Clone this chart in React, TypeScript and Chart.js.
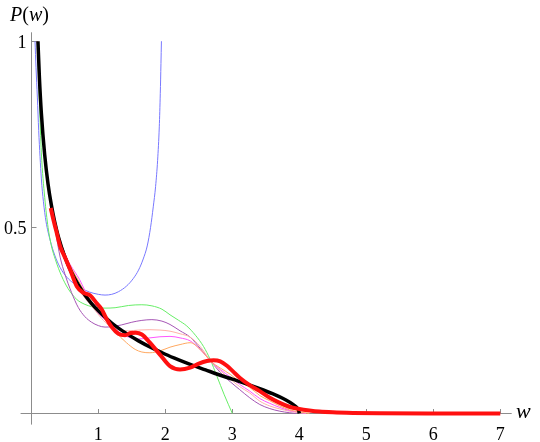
import { useEffect, useRef } from "react";
import { Chart, registerables } from "chart.js";

Chart.register(...registerables);

// ---- tick labels ----
const xTickValues = [1, 2, 3, 4, 5, 6, 7];
const yTickValues = [0.5, 1];
const yTickLabels = ["0.5", "1"];

// ---- series (w values and P(w) values) ----
const blackW = [0.099, 0.12, 0.15, 0.2, 0.25, 0.3, 0.35, 0.4, 0.5, 0.6, 0.7, 0.8, 0.9, 1.0, 1.2, 1.4, 1.6, 1.8, 2.0, 2.2, 2.4, 2.6, 2.8, 3.0, 3.2, 3.4, 3.6, 3.7, 3.8, 3.9, 3.95, 3.99, 4.0];
const blackP = [1.0, 0.905, 0.806, 0.694, 0.616, 0.559, 0.514, 0.477, 0.421, 0.379, 0.346, 0.318, 0.295, 0.276, 0.243, 0.217, 0.195, 0.176, 0.159, 0.144, 0.13, 0.117, 0.104, 0.092, 0.08, 0.067, 0.053, 0.045, 0.036, 0.025, 0.018, 0.008, 0.0];

const redW = [0.29, 0.33, 0.37, 0.43, 0.5, 0.58, 0.68, 0.78, 0.88, 0.98, 1.05, 1.12, 1.2, 1.3, 1.4, 1.48, 1.56, 1.65, 1.77, 1.92, 2.07, 2.22, 2.37, 2.5, 2.62, 2.72, 2.82, 2.92, 3.01, 3.11, 3.26, 3.41, 3.56, 3.7, 3.85, 4.0, 4.15, 4.3, 4.5, 4.8, 5.2, 6.0, 7.0];
const redP = [0.552, 0.52, 0.492, 0.449, 0.42, 0.386, 0.341, 0.324, 0.317, 0.295, 0.28, 0.255, 0.232, 0.214, 0.21, 0.216, 0.217, 0.212, 0.19, 0.158, 0.127, 0.118, 0.123, 0.134, 0.141, 0.143, 0.14, 0.128, 0.113, 0.096, 0.076, 0.06, 0.042, 0.029, 0.018, 0.012, 0.008, 0.005, 0.003, 0.0015, 0.0006, 0.0001, 0.0];

const blueW = [0.055, 0.07, 0.09, 0.11, 0.13, 0.15, 0.18, 0.22, 0.28, 0.35, 0.43, 0.53, 0.63, 0.75, 0.87, 1.0, 1.1, 1.2, 1.3, 1.42, 1.52, 1.6, 1.67, 1.73, 1.78, 1.82, 1.855, 1.885, 1.91, 1.925, 1.935, 1.942];
const blueP = [1.0, 0.93, 0.85, 0.76, 0.69, 0.63, 0.57, 0.515, 0.466, 0.425, 0.392, 0.366, 0.35, 0.336, 0.326, 0.32, 0.318, 0.32, 0.327, 0.342, 0.362, 0.385, 0.415, 0.45, 0.5, 0.555, 0.61, 0.68, 0.77, 0.86, 0.94, 1.0];

const greenW = [0.09, 0.1, 0.12, 0.15, 0.2, 0.25, 0.3, 0.36, 0.45, 0.55, 0.68, 0.8, 0.9, 1.0, 1.1, 1.25, 1.45, 1.65, 1.8, 1.95, 2.07, 2.2, 2.32, 2.45, 2.57, 2.67, 2.77, 2.88, 3.0];
const greenP = [1.0, 0.95, 0.84, 0.7, 0.58, 0.5, 0.45, 0.413, 0.37, 0.335, 0.306, 0.293, 0.287, 0.284, 0.283, 0.284, 0.29, 0.292, 0.289, 0.28, 0.265, 0.25, 0.235, 0.21, 0.18, 0.145, 0.1, 0.05, 0.0];

const purpleW = [0.09, 0.12, 0.15, 0.2, 0.25, 0.3, 0.36, 0.43, 0.5, 0.6, 0.7, 0.8, 0.9, 1.0, 1.1, 1.2, 1.35, 1.5, 1.65, 1.8, 1.95, 2.07, 2.22, 2.37, 2.52, 2.68, 2.82, 2.97, 3.11, 3.26, 3.41, 3.56, 3.71, 3.85, 3.95];
const purpleP = [1.0, 0.91, 0.81, 0.69, 0.61, 0.55, 0.49, 0.42, 0.375, 0.325, 0.285, 0.26, 0.245, 0.236, 0.232, 0.233, 0.238, 0.245, 0.25, 0.252, 0.248, 0.239, 0.222, 0.205, 0.175, 0.14, 0.11, 0.085, 0.064, 0.042, 0.024, 0.013, 0.006, 0.002, 0.0];

const salmonW = [0.09, 0.15, 0.2, 0.3, 0.4, 0.5, 0.6, 0.7, 0.8, 0.925, 1.05, 1.17, 1.3, 1.45, 1.6, 1.77, 1.92, 2.07, 2.22, 2.37, 2.52, 2.68, 2.82, 2.97, 3.11, 3.26, 3.41, 3.56, 3.71, 3.85, 4.0, 4.1];
const salmonP = [1.0, 0.8, 0.69, 0.555, 0.475, 0.415, 0.37, 0.335, 0.31, 0.283, 0.255, 0.235, 0.224, 0.222, 0.224, 0.225, 0.224, 0.221, 0.214, 0.205, 0.18, 0.14, 0.115, 0.092, 0.072, 0.055, 0.033, 0.02, 0.012, 0.006, 0.002, 0.0];

const magentaW = [0.09, 0.15, 0.2, 0.3, 0.4, 0.5, 0.58, 0.65, 0.72, 0.8, 0.9, 1.0, 1.17, 1.3, 1.45, 1.6, 1.77, 1.92, 2.07, 2.22, 2.37, 2.52, 2.68, 2.82, 2.97, 3.11, 3.26, 3.41, 3.56, 3.71, 3.85, 4.0, 4.1];
const magentaP = [1.0, 0.8, 0.69, 0.555, 0.48, 0.43, 0.4, 0.38, 0.36, 0.33, 0.295, 0.27, 0.24, 0.22, 0.205, 0.2, 0.203, 0.206, 0.207, 0.203, 0.195, 0.172, 0.14, 0.118, 0.098, 0.078, 0.06, 0.04, 0.027, 0.016, 0.008, 0.003, 0.0];

const orangeW = [0.09, 0.15, 0.2, 0.3, 0.4, 0.5, 0.6, 0.7, 0.78, 0.9, 1.07, 1.25, 1.42, 1.55, 1.65, 1.77, 1.92, 2.07, 2.22, 2.37, 2.52, 2.68, 2.82, 2.97, 3.11, 3.26, 3.41, 3.56, 3.71, 3.85, 4.0, 4.15];
const orangeP = [1.0, 0.81, 0.7, 0.565, 0.485, 0.43, 0.39, 0.358, 0.332, 0.3, 0.26, 0.22, 0.19, 0.172, 0.165, 0.163, 0.168, 0.178, 0.185, 0.19, 0.172, 0.14, 0.122, 0.105, 0.085, 0.07, 0.048, 0.034, 0.02, 0.01, 0.004, 0.0];

const pts = (ws: number[], ps: number[]) => ws.map((w, i) => ({ x: w, y: ps[i] }));

const serif = '"Liberation Serif", "Times New Roman", serif';

const axesPlugin = {
  id: "mmaAxes",
  beforeDatasetsDraw(chart: any) {
    const { ctx, chartArea } = chart;
    const xs = chart.scales.x;
    const ys = chart.scales.y;
    const x0 = Math.round(xs.getPixelForValue(0)) + 0.5;
    const y0 = Math.round(ys.getPixelForValue(0)) + 0.5;
    ctx.save();
    ctx.strokeStyle = "#8c8c8c";
    ctx.lineWidth = 1;
    ctx.beginPath();
    ctx.moveTo(chartArea.left, y0);
    ctx.lineTo(chartArea.right, y0);
    ctx.moveTo(x0, chartArea.top);
    ctx.lineTo(x0, chartArea.bottom);
    for (const t of xTickValues) {
      const px = Math.round(xs.getPixelForValue(t)) + 0.5;
      ctx.moveTo(px, y0);
      ctx.lineTo(px, y0 - 4.5);
    }
    for (const t of yTickValues) {
      const py = Math.round(ys.getPixelForValue(t)) + 0.5;
      ctx.moveTo(x0, py);
      ctx.lineTo(x0 + 5, py);
    }
    ctx.stroke();

    ctx.fillStyle = "#000";
    ctx.font = `18px ${serif}`;
    ctx.textAlign = "center";
    ctx.textBaseline = "alphabetic";
    for (const t of xTickValues) {
      ctx.fillText(String(t), xs.getPixelForValue(t), y0 + 26);
    }
    ctx.textAlign = "right";
    yTickValues.forEach((t, i) => {
      ctx.fillText(yTickLabels[i], x0 - 5, ys.getPixelForValue(t) + 6.5);
    });

    // axis labels
    ctx.textAlign = "left";
    const drawParts = (parts: [string, boolean][], x: number, yb: number, size: number) => {
      let cx = x;
      for (const [s, it] of parts) {
        ctx.font = `${it ? "italic " : ""}${size}px ${serif}`;
        ctx.fillText(s, cx, yb);
        cx += ctx.measureText(s).width;
      }
    };
    drawParts([["P", true], ["(", false], ["w", true], [")", false]], 10, 20.5, 20);
    drawParts([["w", true]], 516, 418, 22);
    ctx.restore();
  },
};

export default function App() {
  const ref = useRef<HTMLCanvasElement>(null);
  useEffect(() => {
    const thin = (label: string, ws: number[], ps: number[], color: string) => ({
      label,
      data: pts(ws, ps),
      borderColor: color,
      borderWidth: 1,
      pointRadius: 0,
      fill: false,
      cubicInterpolationMode: "monotone" as const,
    });
    const chart = new Chart(ref.current!, {
      type: "line",
      data: {
        datasets: [
          {
            label: "red",
            data: pts(redW, redP),
            borderColor: "#ff1010",
            borderWidth: 4,
            pointRadius: 0,
            fill: false,
            cubicInterpolationMode: "monotone",
          },
          {
            label: "black",
            data: pts(blackW, blackP),
            borderColor: "#000000",
            borderWidth: 3.5,
            pointRadius: 0,
            fill: false,
            cubicInterpolationMode: "monotone",
          },
          thin("orange", orangeW, orangeP, "#ffa860"),
          thin("magenta", magentaW, magentaP, "#ff55ff"),
          thin("salmon", salmonW, salmonP, "#ffb0a8"),
          thin("purple", purpleW, purpleP, "#a555b5"),
          thin("green", greenW, greenP, "#66ee66"),
          thin("blue", blueW, blueP, "#7878ff"),
        ],
      },
      options: {
        responsive: false,
        animation: false,
        devicePixelRatio: 1,
        layout: { padding: { left: 20.6, top: 32.3, right: 28.3, bottom: 17.4 } },
        plugins: { legend: { display: false }, tooltip: { enabled: false } },
        scales: {
          x: { type: "linear", min: -0.16, max: 7.17, display: false },
          y: { type: "linear", min: -0.03, max: 1.024, display: false },
        },
      },
      plugins: [axesPlugin],
    });
    return () => chart.destroy();
  }, []);
  return (
    <div style={{ position: "fixed", left: 0, top: 0, width: 540, height: 442, background: "#fff" }}>
      <canvas ref={ref} width={540} height={442} style={{ width: 540, height: 442, display: "block" }} />
    </div>
  );
}
